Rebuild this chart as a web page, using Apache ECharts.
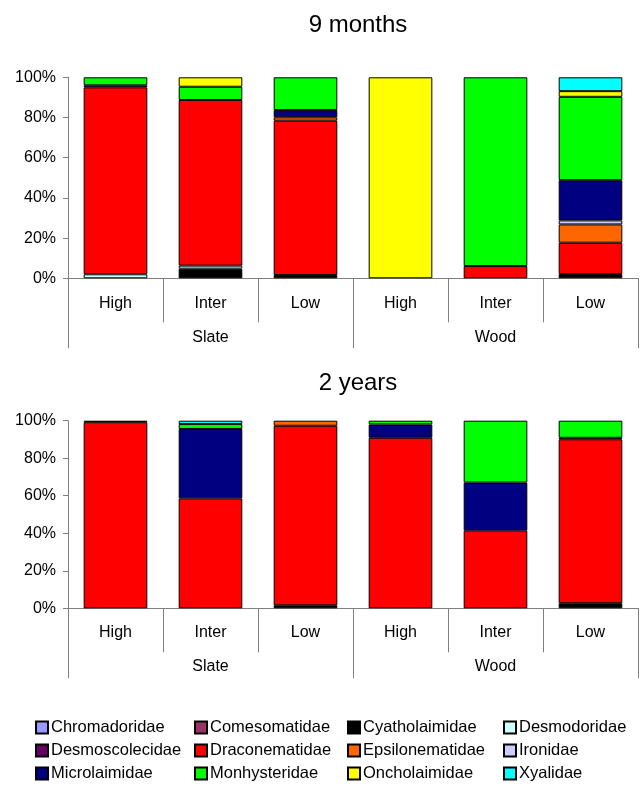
<!DOCTYPE html>
<html>
<head>
<meta charset="utf-8">
<script src="https://cdn.jsdelivr.net/npm/echarts@6/dist/echarts.min.js"></script>
<style>
  html, body { margin: 0; padding: 0; background: #fff; }
  #chart { width: 641px; height: 787px; }
</style>
</head>
<body>
<div id="chart"></div>
<script>
// Nematode family composition (% of individuals) per site, substrate and exposure time
const families = [
  'Chromadoridae', 'Comesomatidae', 'Cyatholaimidae', 'Desmodoridae',
  'Desmoscolecidae', 'Draconematidae', 'Epsilonematidae', 'Ironidae',
  'Microlaimidae', 'Monhysteridae', 'Oncholaimidae', 'Xyalidae'
];
const familyColors = [
  '#9999FF', '#993366', '#000000', '#CCFFFF',
  '#660066', '#FF0000', '#FF6600', '#CCCCFF',
  '#000080', '#00FF00', '#FFFF00', '#00FFFF'
];
const sites = ['High', 'Inter', 'Low', 'High', 'Inter', 'Low'];
const substrates = ['Slate', 'Wood'];
const panelTitles = ['9 months', '2 years'];

// Order of each row: Slate High, Slate Inter, Slate Low, Wood High, Wood Inter, Wood Low
const months9 = {
  Chromadoridae:   [0, 0, 0, 0, 0, 0],
  Comesomatidae:   [0, 0, 0, 0, 0, 0],
  Cyatholaimidae:  [0, 4.8, 1.6, 0, 0, 2.1],
  Desmodoridae:    [2, 1.5, 0, 0, 0, 0],
  Desmoscolecidae: [0, 0, 0, 0, 0, 0],
  Draconematidae:  [93, 82.4, 76.8, 0, 6.1, 15.6],
  Epsilonematidae: [0, 0, 1.7, 0, 0, 9.1],
  Ironidae:        [0, 0, 0, 0, 0, 2.0],
  Microlaimidae:   [1, 0, 3.6, 0, 0, 20.0],
  Monhysteridae:   [4, 6.6, 16.3, 0, 93.9, 41.5],
  Oncholaimidae:   [0, 4.7, 0, 100, 0, 2.8],
  Xyalidae:        [0, 0, 0, 0, 0, 6.9]
};
const years2 = {
  Chromadoridae:   [0, 0, 0, 0, 0, 0],
  Comesomatidae:   [0, 0, 0, 0, 0, 0],
  Cyatholaimidae:  [0, 0, 1.6, 0, 0, 2.7],
  Desmodoridae:    [0, 0, 0, 0, 0, 0],
  Desmoscolecidae: [0, 0, 0, 0, 0, 0],
  Draconematidae:  [99.2, 58.6, 95.7, 90.9, 41.4, 87.4],
  Epsilonematidae: [0, 0, 2.7, 0, 0, 0],
  Ironidae:        [0, 0, 0, 0, 0, 0],
  Microlaimidae:   [0, 37, 0, 7.1, 25.6, 0.8],
  Monhysteridae:   [0.8, 2.6, 0, 2.0, 33, 9.1],
  Oncholaimidae:   [0, 0, 0, 0, 0, 0],
  Xyalidae:        [0, 1.8, 0, 0, 0, 0]
};

const FONT = "'Liberation Sans', Arial, sans-serif";
const AXIS_GREY = '#808080';

// panel geometry: [grid top, grid height]
const panels = [[77.3, 201], [420.7, 187.6]];

const grids = panels.map(([top, height]) => ({ left: 68, right: 3, top, height }));

const yAxes = panels.map((_, i) => ({
  gridIndex: i, type: 'value', min: 0, max: 100, interval: 20,
  axisLine: { show: true, lineStyle: { color: AXIS_GREY, width: 1 } },
  axisTick: { show: true, length: 5, lineStyle: { color: AXIS_GREY } },
  splitLine: { show: false },
  axisLabel: {
    margin: 12, color: '#000', fontSize: 16, fontFamily: FONT,
    formatter: v => v + '%'
  }
}));

const xAxes = [];
panels.forEach((_, i) => {
  // inner tier: exposure level
  xAxes.push({
    gridIndex: i, type: 'category', data: sites, position: 'bottom',
    axisLine: { show: true, lineStyle: { color: AXIS_GREY, width: 1 } },
    axisTick: { show: true, interval: 0, length: 44, lineStyle: { color: AXIS_GREY } },
    axisLabel: { interval: 0, margin: i === 0 ? 17 : 16, color: '#000', fontSize: 16, fontFamily: FONT }
  });
  // outer tier: substrate
  xAxes.push({
    gridIndex: i, type: 'category', data: substrates, position: 'bottom',
    axisLine: { show: false },
    axisTick: { show: true, interval: 0, length: 70, lineStyle: { color: AXIS_GREY } },
    axisLabel: { interval: 0, margin: i === 0 ? 51 : 50, color: '#000', fontSize: 16, fontFamily: FONT }
  });
});

const series = [];
[months9, years2].forEach((table, i) => {
  families.forEach((name, k) => {
    series.push({
      name, type: 'bar', stack: 'panel' + i,
      xAxisIndex: i * 2, yAxisIndex: i,
      barCategoryGap: '33%',
      itemStyle: { color: familyColors[k], borderColor: '#000', borderWidth: 1 },
      emphasis: { disabled: true },
      data: table[name].map(v => (v === 0 ? '-' : v))
    });
  });
});

// legend laid out as 4 columns x 3 rows
const legendColumnsX = [35, 194, 347, 503];
const legends = legendColumnsX.map((x, c) => ({
  orient: 'vertical', left: x, top: 719, padding: 0,
  itemGap: 6, itemWidth: 12, itemHeight: 12, icon: 'rect',
  textStyle: { color: '#000', fontSize: 16.5, lineHeight: 17, fontFamily: FONT, padding: [0, 0, 0, -2] },
  data: [families[c], families[c + 4], families[c + 8]]
}));

const titles = panelTitles.map((t, i) => ({
  text: t, left: 353, top: i === 0 ? 8 : 366, textAlign: 'center',
  textStyle: { color: '#000', fontSize: 24, fontWeight: 'normal', fontFamily: FONT }
}));

const chart = echarts.init(document.getElementById('chart'), null, { renderer: 'canvas' });
chart.setOption({
  animation: false,
  backgroundColor: '#fff',
  title: titles,
  legend: legends,
  grid: grids,
  xAxis: xAxes,
  yAxis: yAxes,
  series
});
</script>
</body>
</html>
